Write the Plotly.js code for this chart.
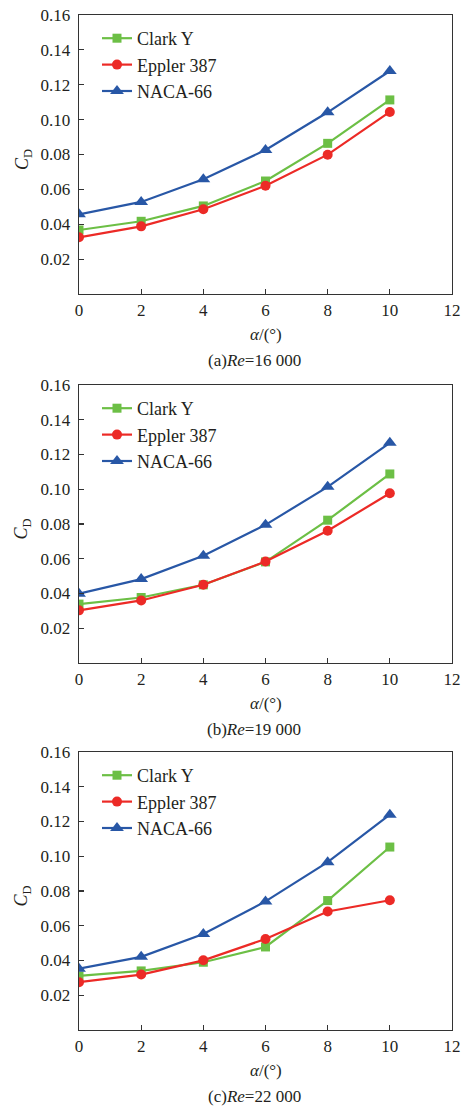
<!DOCTYPE html>
<html>
<head>
<meta charset="utf-8">
<script src="https://cdn.plot.ly/plotly-3.0.1.min.js"></script>
<style>html,body{margin:0;padding:0;background:#fff;}#chart{width:465px;height:1109px;}</style>
</head>
<body>
<div id="chart"></div>
<script>
const alpha = [0, 2, 4, 6, 8, 10];
const seriesNames = ["Clark Y", "Eppler 387", "NACA-66"];
const captions = ["(a)<i>Re</i>=16 000", "(b)<i>Re</i>=19 000", "(c)<i>Re</i>=22 000"];

// Re = 16 000
const clarkY_16 = [0.0367, 0.0417, 0.0505, 0.0648, 0.0864, 0.1113];
const eppler_16 = [0.0325, 0.0388, 0.0486, 0.0621, 0.0799, 0.1044];
const naca_16   = [0.0457, 0.0528, 0.0658, 0.0826, 0.1042, 0.1279];
// Re = 19 000
const clarkY_19 = [0.0339, 0.0377, 0.0450, 0.0582, 0.0822, 0.1088];
const eppler_19 = [0.0303, 0.0360, 0.0450, 0.0584, 0.0761, 0.0977];
const naca_19   = [0.0399, 0.0483, 0.0617, 0.0795, 0.1014, 0.1267];
// Re = 22 000
const clarkY_22 = [0.0311, 0.0340, 0.0390, 0.0478, 0.0745, 0.1053];
const eppler_22 = [0.0275, 0.0319, 0.0401, 0.0524, 0.0682, 0.0747];
const naca_22   = [0.0353, 0.0421, 0.0553, 0.0740, 0.0966, 0.1239];

const yTickVals = [0.02, 0.04, 0.06, 0.08, 0.10, 0.12, 0.14, 0.16];
const yTickText = ["0.02", "0.04", "0.06", "0.08", "0.10", "0.12", "0.14", "0.16"];
const xTickVals = [0, 2, 4, 6, 8, 10, 12];

const panels = [
  [clarkY_16, eppler_16, naca_16],
  [clarkY_19, eppler_19, naca_19],
  [clarkY_22, eppler_22, naca_22]
];

const colors = ["#6cbf45", "#ec2a26", "#2857a6"];
const symbols = ["square", "circle", "triangle-up"];
const msizes = [9, 10, 12];

const W = 465, H = 1109;
const plotTop = [15, 385, 752];
const plotBot = [294, 663, 1030];
const xL = 79, xR = 452;

const FONT = "'Liberation Serif', 'Times New Roman', serif";
const traces = [];
const layout = {
  width: W, height: H,
  margin: {l: 0, r: 0, t: 0, b: 0},
  paper_bgcolor: "#fff", plot_bgcolor: "#fff",
  font: {family: FONT, size: 17, color: "#231f20"},
  showlegend: true,
  annotations: []
};

panels.forEach((ser, p) => {
  const sfx = p === 0 ? "" : String(p + 1);
  const legName = "legend" + sfx;
  ser.forEach((vals, i) => {
    traces.push({
      x: alpha, y: vals, type: "scatter", mode: "lines+markers",
      name: seriesNames[i],
      xaxis: "x" + sfx, yaxis: "y" + sfx,
      legend: legName,
      line: {color: colors[i], width: 2.2},
      marker: {color: colors[i], symbol: symbols[i], size: msizes[i]}
    });
  });
  const dom = [1 - plotBot[p] / H, 1 - plotTop[p] / H];
  layout["xaxis" + sfx] = {
    domain: [xL / W, xR / W], range: [0, 12], anchor: "y" + sfx,
    tickvals: xTickVals, ticks: "inside", ticklen: 5, tickwidth: 1.2, tickcolor: "#333",
    showline: true, linecolor: "#333", linewidth: 1.3, mirror: true,
    showgrid: false, zeroline: false, fixedrange: true,
    tickfont: {family: FONT, size: 17, color: "#231f20"}
  };
  layout["yaxis" + sfx] = {
    domain: dom, range: [0, 0.16], anchor: "x" + sfx,
    tickvals: yTickVals, ticktext: yTickText, ticks: "inside", ticklen: 5, tickwidth: 1.2, tickcolor: "#333",
    showline: true, linecolor: "#333", linewidth: 1.3, mirror: true,
    showgrid: false, zeroline: false, fixedrange: true,
    ticklabelstandoff: 4,
    tickfont: {family: FONT, size: 17, color: "#231f20"}
  };
  layout[legName] = {
    x: 97 / W, y: 1 - (plotTop[p] + 5) / H, xanchor: "left", yanchor: "top",
    bgcolor: "rgba(0,0,0,0)", borderwidth: 0,
    font: {family: FONT, size: 18, color: "#231f20"}
  };
  layout.annotations.push({
    text: "<i>C</i><sub>D</sub>", textangle: -90, showarrow: false,
    xref: "paper", yref: "y" + sfx + " domain", x: 23 / W, y: 0.48,
    xanchor: "center", yanchor: "middle",
    font: {family: FONT, size: 18, color: "#231f20"}
  });
  layout.annotations.push({
    text: "<i>α</i>/(°)", showarrow: false,
    xref: "x" + sfx + " domain", yref: "paper", x: 0.5, y: 1 - (plotBot[p] + 40) / H,
    xanchor: "center", yanchor: "middle",
    font: {family: FONT, size: 17, color: "#231f20"}
  });
  layout.annotations.push({
    text: captions[p], showarrow: false,
    xref: "paper", yref: "paper", x: 254 / W, y: 1 - (plotBot[p] + 66) / H,
    xanchor: "center", yanchor: "middle",
    font: {family: FONT, size: 17, color: "#231f20"}
  });
});

Plotly.newPlot("chart", traces, layout, {displayModeBar: false, staticPlot: true});
</script>
</body>
</html>
